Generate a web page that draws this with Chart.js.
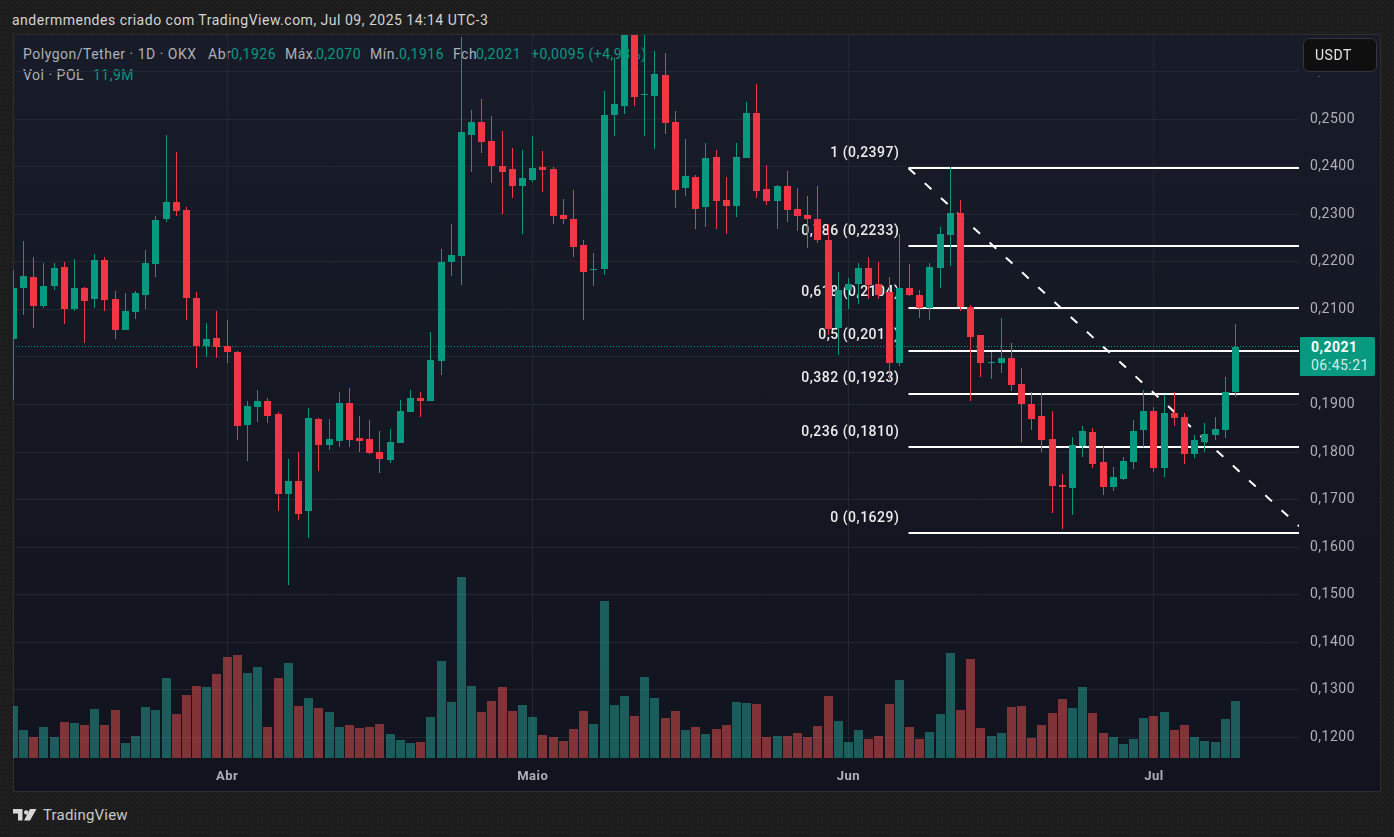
<!DOCTYPE html>
<html lang="pt">
<head>
<meta charset="utf-8">
<title>Polygon/Tether</title>
<script src="https://cdn.jsdelivr.net/npm/chart.js@4/dist/chart.umd.min.js"></script>
<style>
    html, body { margin: 0; padding: 0; }
    body {
        width: 1394px; height: 837px; position: relative; overflow: hidden;
        background-color: #1d1d1d;
        background-image: radial-gradient(rgba(255,255,255,0.05) 0.7px, transparent 0.8px);
        background-size: 5px 5px;
        font-family: Roboto, sans-serif; font-size: 14px; letter-spacing: 0.5px;
    }
    #pane {
        position: absolute; left: 13px; top: 34px; width: 1368px; height: 758px;
        box-sizing: border-box; border: 1px solid #2e2e2e;
        background: linear-gradient(#181c28, #11141e);
    }
    #chart { position: absolute; left: 0; top: 0; z-index: 1; }
    .txt { position: absolute; white-space: nowrap; line-height: 18px; color: #aeb0b8; }
    .up { color: #089981; }
    #usdt {
        position: absolute; z-index: 2; left: 1303px; top: 38px; width: 74px; height: 34px;
        box-sizing: border-box; border: 1px solid #34363c; border-radius: 6px;
        background: #0f0f0f; color: #e4e4e4; line-height: 32px; padding-left: 11px;
        box-shadow: 0 4px 0 0 #181c28;
    }
    #lastPrice {
        position: absolute; z-index: 2; left: 1300px; top: 337px; width: 75px; height: 39px;
        background: #089981; border-radius: 0 2px 2px 0;
    }
</style>
</head>
<body>
<div id="pane"></div>

<div class="txt" style="left:12px;top:11px;color:#d4d4d4">andermmendes criado com TradingView.com, Jul 09, 2025 14:14 UTC-3</div>
<div class="txt" style="left:23px;top:45px">Polygon/Tether · 1D · OKX</div>
<div class="txt" style="left:208px;top:45px">Abr</div>
<div class="txt up" style="left:231px;top:45px">0,1926</div>
<div class="txt" style="left:285px;top:45px">Máx.</div>
<div class="txt up" style="left:316px;top:45px">0,2070</div>
<div class="txt" style="left:370px;top:45px">Mín.</div>
<div class="txt up" style="left:399px;top:45px">0,1916</div>
<div class="txt" style="left:453px;top:45px">Fch</div>
<div class="txt up" style="left:476px;top:45px">0,2021</div>
<div class="txt up" style="left:531px;top:45px">+0,0095 (+4,93%)</div>
<div class="txt" style="left:23px;top:66px">Vol · POL</div>
<div class="txt up" style="left:93px;top:66px">11,9M</div>

<canvas id="chart" width="1394" height="837"></canvas>

<div id="usdt">USDT</div>
<div id="lastPrice">
    <div class="txt" style="left:11px;top:1px;color:#fff;font-weight:700">0,2021</div>
    <div class="txt" style="left:11px;top:19px;color:#d4ece7">06:45:21</div>
</div>

<svg style="position:absolute;left:13px;top:809px" width="24" height="12" viewBox="0 0 24 12">
    <path fill="#d8d8d8" d="M0 0h9.5v11.5H5V4.5H0zM11 3.5a2.2 2.2 0 1 0 0-.1zM17 0h6.5L17 11.5h-6z"/>
</svg>
<div class="txt" style="left:43px;top:806px;font-size:15px;letter-spacing:0.2px;color:#c8c8c8">TradingView</div>

<script>
// Candles from 11 Mar to 9 Jul 2025
const opens = [
    0.2038, 0.2146, 0.2169, 0.2108, 0.2150, 0.2190, 0.2100, 0.2146, 0.2121, 0.2203,
    0.2121, 0.2057, 0.2094, 0.2130, 0.2195, 0.2291, 0.2327, 0.2310, 0.2125, 0.2023,
    0.2040, 0.2023, 0.2011, 0.1857, 0.1895, 0.1908, 0.1881, 0.1712, 0.1738, 0.1675,
    0.1870, 0.1815, 0.1824, 0.1904, 0.1830, 0.1828, 0.1799, 0.1784, 0.1820, 0.1885,
    0.1914, 0.1908, 0.1992, 0.2199, 0.2213, 0.2467, 0.2495, 0.2455, 0.2402, 0.2396,
    0.2360, 0.2373, 0.2400, 0.2396, 0.2299, 0.2291, 0.2236, 0.2184, 0.2186, 0.2510,
    0.2527, 0.2705, 0.2552, 0.2550, 0.2594, 0.2495, 0.2356, 0.2379, 0.2316, 0.2421,
    0.2331, 0.2318, 0.2419, 0.2514, 0.2354, 0.2329, 0.2360, 0.2312, 0.2299, 0.2291,
    0.2247, 0.2061, 0.2140, 0.2154, 0.2188, 0.2154, 0.2136, 0.1988, 0.2146, 0.2131,
    0.2104, 0.2188, 0.2257, 0.2303, 0.2106, 0.2047, 0.1988, 0.1988, 0.1998, 0.1944,
    0.1902, 0.1876, 0.1828, 0.1731, 0.1725, 0.1813, 0.1843, 0.1778, 0.1727, 0.1744,
    0.1780, 0.1847, 0.1887, 0.1767, 0.1883, 0.1874, 0.1795, 0.1822, 0.1836, 0.1847,
    0.1926
];
const highs = [
    0.2184, 0.2245, 0.2211, 0.2197, 0.2197, 0.2199, 0.2207, 0.2148, 0.2217, 0.2211,
    0.2138, 0.2134, 0.2138, 0.2226, 0.2297, 0.2467, 0.2432, 0.2316, 0.2136, 0.2072,
    0.2096, 0.2078, 0.2013, 0.1908, 0.1931, 0.1914, 0.1885, 0.1786, 0.1801, 0.1893,
    0.1872, 0.1870, 0.1927, 0.1935, 0.1876, 0.1868, 0.1845, 0.1849, 0.1910, 0.1931,
    0.1927, 0.2053, 0.2228, 0.2279, 0.2674, 0.2520, 0.2543, 0.2506, 0.2476, 0.2440,
    0.2436, 0.2465, 0.2434, 0.2400, 0.2333, 0.2352, 0.2247, 0.2219, 0.2560, 0.2630,
    0.2740, 0.2760, 0.2700, 0.2644, 0.2640, 0.2518, 0.2459, 0.2383, 0.2451, 0.2436,
    0.2379, 0.2451, 0.2537, 0.2575, 0.2404, 0.2362, 0.2392, 0.2356, 0.2339, 0.2360,
    0.2280, 0.2179, 0.2167, 0.2197, 0.2211, 0.2199, 0.2169, 0.2259, 0.2195, 0.2140,
    0.2197, 0.2274, 0.2400, 0.2331, 0.2110, 0.2047, 0.2011, 0.2083, 0.2030, 0.1977,
    0.1927, 0.1925, 0.1887, 0.1754, 0.1832, 0.1855, 0.1851, 0.1813, 0.1769, 0.1790,
    0.1868, 0.1931, 0.1895, 0.1921, 0.1927, 0.1883, 0.1836, 0.1862, 0.1874, 0.1958,
    0.2070
];
const lows = [
    0.1910, 0.2089, 0.2061, 0.2102, 0.2140, 0.2070, 0.2096, 0.2030, 0.2104, 0.2096,
    0.2038, 0.2057, 0.2080, 0.2100, 0.2169, 0.2285, 0.2297, 0.2078, 0.1977, 0.2000,
    0.1998, 0.1988, 0.1826, 0.1782, 0.1864, 0.1860, 0.1675, 0.1521, 0.1658, 0.1620,
    0.1759, 0.1805, 0.1811, 0.1811, 0.1801, 0.1795, 0.1755, 0.1776, 0.1818, 0.1885,
    0.1874, 0.1908, 0.1963, 0.2171, 0.2152, 0.2390, 0.2430, 0.2367, 0.2301, 0.2335,
    0.2259, 0.2369, 0.2348, 0.2279, 0.2279, 0.2211, 0.2078, 0.2150, 0.2173, 0.2465,
    0.2512, 0.2529, 0.2465, 0.2438, 0.2470, 0.2314, 0.2339, 0.2270, 0.2274, 0.2270,
    0.2259, 0.2295, 0.2419, 0.2335, 0.2320, 0.2270, 0.2283, 0.2264, 0.2230, 0.2240,
    0.2047, 0.2005, 0.2100, 0.2112, 0.2121, 0.2121, 0.1950, 0.1982, 0.2129, 0.2083,
    0.2078, 0.2146, 0.2192, 0.2096, 0.1908, 0.1958, 0.1954, 0.1967, 0.1929, 0.1822,
    0.1847, 0.1799, 0.1672, 0.1639, 0.1668, 0.1790, 0.1767, 0.1710, 0.1717, 0.1742,
    0.1765, 0.1811, 0.1757, 0.1748, 0.1855, 0.1775, 0.1788, 0.1801, 0.1826, 0.1830,
    0.1916
];
const closes = [
    0.2146, 0.2171, 0.2108, 0.2150, 0.2188, 0.2100, 0.2146, 0.2117, 0.2203, 0.2119,
    0.2057, 0.2096, 0.2134, 0.2197, 0.2289, 0.2327, 0.2308, 0.2123, 0.2023, 0.2038,
    0.2021, 0.2011, 0.1855, 0.1897, 0.1908, 0.1876, 0.1712, 0.1738, 0.1670, 0.1872,
    0.1815, 0.1828, 0.1904, 0.1826, 0.1824, 0.1797, 0.1786, 0.1822, 0.1887, 0.1914,
    0.1908, 0.1994, 0.2199, 0.2215, 0.2474, 0.2495, 0.2453, 0.2402, 0.2390, 0.2360,
    0.2377, 0.2398, 0.2394, 0.2297, 0.2291, 0.2232, 0.2179, 0.2186, 0.2510, 0.2533,
    0.2705, 0.2548, 0.2554, 0.2596, 0.2493, 0.2352, 0.2381, 0.2312, 0.2419, 0.2329,
    0.2318, 0.2421, 0.2514, 0.2350, 0.2329, 0.2360, 0.2310, 0.2297, 0.2291, 0.2247,
    0.2059, 0.2140, 0.2154, 0.2188, 0.2152, 0.2131, 0.1988, 0.2146, 0.2131, 0.2102,
    0.2190, 0.2259, 0.2303, 0.2106, 0.2043, 0.1988, 0.1990, 0.1998, 0.1942, 0.1900,
    0.1870, 0.1826, 0.1729, 0.1727, 0.1815, 0.1845, 0.1775, 0.1727, 0.1748, 0.1782,
    0.1845, 0.1887, 0.1767, 0.1883, 0.1872, 0.1795, 0.1826, 0.1838, 0.1849, 0.1927,
    0.2021
];
// Volume in millions
const volumes = [
    10.9, 5.9, 4.4, 6.5, 4.4, 7.5, 7.3, 6.9, 10.2, 6.9,
    10.0, 3.1, 4.6, 10.7, 10.0, 16.7, 9.2, 13.2, 15.1, 14.8,
    17.6, 21.1, 21.5, 17.8, 19.0, 6.5, 16.7, 19.9, 10.9, 12.5,
    10.5, 9.6, 6.5, 6.9, 6.3, 6.5, 7.1, 5.0, 3.8, 3.1,
    3.3, 8.6, 20.3, 11.7, 37.8, 15.1, 9.6, 11.9, 14.8, 9.8,
    11.1, 8.6, 4.8, 4.4, 3.6, 6.1, 9.8, 7.1, 32.8, 11.1,
    13.0, 8.8, 16.9, 12.5, 8.4, 9.8, 5.9, 6.5, 5.0, 6.1,
    6.9, 11.7, 11.5, 11.3, 4.4, 4.6, 4.6, 5.2, 4.4, 6.7,
    13.0, 7.7, 3.3, 5.9, 4.0, 4.6, 11.3, 16.3, 6.5, 4.0,
    5.4, 9.2, 22.0, 10.0, 20.7, 6.3, 4.6, 5.2, 10.7, 10.9,
    4.2, 6.9, 9.4, 12.3, 10.5, 14.8, 9.4, 5.2, 4.4, 2.9,
    4.0, 8.4, 8.8, 9.6, 5.9, 6.9, 4.4, 3.6, 3.3, 8.2,
    11.9
];

const monthTicks = [21, 51, 82, 112];
const monthLabels = ['Abr', 'Maio', 'Jun', 'Jul'];
const priceTicks = [0.12, 0.13, 0.14, 0.15, 0.16, 0.17, 0.18, 0.19, 0.20, 0.21, 0.22, 0.23, 0.24, 0.25, 0.26];

// Fibonacci retracement drawn on the chart
const fibLevels = ['1', '0,786', '0,618', '0,5', '0,382', '0,236', '0'];
const fibPrices = [0.2397, 0.2233, 0.2104, 0.2013, 0.1923, 0.1810, 0.1629];
const fibStart = 87.9;
const lastPrice = 0.2021;
const trendDays = [87.9, 126.24];
const trendPrices = [0.2397, 0.1644];

const GREEN = '#089981';
const RED = '#f23645';
const VOL_GREEN = 'rgba(38,166,154,0.5)';
const VOL_RED = 'rgba(239,83,80,0.5)';
const X_MIN = -0.03;
const X_MAX = 126.24;

const isUp = (i) => closes[i] >= opens[i];
const formatPrice = (v) => v.toFixed(4).replace('.', ',');

// Candles sit on whole pixels in the original, so snap the bars and flat lines
const snapPlugin = {
    id: 'snap',
    afterDatasetsUpdate(chart) {
        chart.data.datasets.forEach((ds, n) => {
            const meta = chart.getDatasetMeta(n);
            if (meta.type === 'bar') {
                meta.data.forEach((el) => {
                    el.x = Math.floor(el.x) + 0.5;
                    el.y = Math.round(el.y);
                    el.base = Math.round(el.base);
                    if (el.y === el.base) el.base = el.y + 1;
                });
            } else if (ds.snapY) {
                meta.data.forEach((el) => {
                    el.y = ds.borderWidth % 2 ? Math.floor(el.y) + 0.5 : Math.round(el.y);
                });
            }
        });
    }
};

// Fib labels go under the candles, like the other drawings
const fibLabelPlugin = {
    id: 'fibLabels',
    beforeDatasetsDraw(chart) {
        const { ctx, scales } = chart;
        ctx.save();
        ctx.font = '500 14px Roboto, sans-serif';
        ctx.fillStyle = '#ececec';
        ctx.textAlign = 'right';
        ctx.textBaseline = 'middle';
        fibLevels.forEach((level, i) => {
            const y = scales.y.getPixelForValue(fibPrices[i]) - 15;
            ctx.fillText(level + ' (' + formatPrice(fibPrices[i]) + ')', scales.x.getPixelForValue(87), y);
        });
        ctx.restore();
    }
};

const fibDatasets = fibPrices.map((price) => ({
    type: 'line',
    data: [{ x: fibStart, y: price }, { x: X_MAX, y: price }],
    yAxisID: 'y',
    borderColor: '#ffffff',
    borderWidth: 2,
    pointRadius: 0,
    snapY: true,
    order: 4
}));

const ctx = document.getElementById('chart').getContext('2d');
ctx.letterSpacing = '0.5px';

new Chart(ctx, {
    type: 'bar',
    data: {
        datasets: [
            {
                data: closes.map((c, i) => ({ x: i, y: [opens[i], c] })),
                yAxisID: 'y',
                backgroundColor: closes.map((c, i) => (isUp(i) ? GREEN : RED)),
                barThickness: 7,
                minBarLength: 1,
                inflateAmount: 0,
                grouped: false,
                order: 1
            },
            {
                data: closes.map((c, i) => ({ x: i, y: [lows[i], highs[i]] })),
                yAxisID: 'y',
                backgroundColor: closes.map((c, i) => (isUp(i) ? GREEN : RED)),
                barThickness: 1,
                inflateAmount: 0,
                grouped: false,
                order: 2
            },
            {
                type: 'line',
                data: trendDays.map((d, i) => ({ x: d, y: trendPrices[i] })),
                yAxisID: 'y',
                borderColor: '#ffffff',
                borderWidth: 2,
                borderDash: [9, 13],
                pointRadius: 0,
                order: 3
            },
            ...fibDatasets,
            {
                type: 'line',
                data: [{ x: X_MIN, y: lastPrice }, { x: X_MAX, y: lastPrice }],
                yAxisID: 'y',
                borderColor: GREEN,
                borderWidth: 1,
                borderDash: [1, 2],
                pointRadius: 0,
                snapY: true,
                order: 5
            },
            {
                data: volumes.map((v, i) => ({ x: i, y: v })),
                yAxisID: 'vol',
                backgroundColor: volumes.map((v, i) => (isUp(i) ? VOL_GREEN : VOL_RED)),
                barThickness: 9,
                inflateAmount: 0,
                grouped: false,
                order: 6
            }
        ]
    },
    options: {
        responsive: false,
        animation: false,
        events: [],
        layout: { padding: { left: 13, top: 35, right: 14, bottom: 44 } },
        plugins: { legend: { display: false }, tooltip: { enabled: false } },
        scales: {
            x: {
                type: 'linear',
                min: X_MIN,
                max: X_MAX,
                offset: false,
                afterBuildTicks: (axis) => { axis.ticks = monthTicks.map((v) => ({ value: v })); },
                afterFit: (axis) => { axis.height = 35; },
                border: { display: false },
                grid: { color: '#232732', drawTicks: false, offset: false },
                ticks: {
                    color: '#aeb0b8',
                    font: { family: 'Roboto, sans-serif', size: 13, weight: '700' },
                    padding: 11,
                    maxRotation: 0,
                    autoSkip: false,
                    callback: (v) => monthLabels[monthTicks.indexOf(v)]
                }
            },
            y: {
                type: 'linear',
                position: 'right',
                min: 0.11562,
                max: 0.26774,
                afterBuildTicks: (axis) => { axis.ticks = priceTicks.map((v) => ({ value: v })); },
                afterFit: (axis) => { axis.width = 81; },
                border: { display: false },
                grid: { color: '#232732', drawTicks: false },
                ticks: {
                    color: '#aeb0b8',
                    font: { family: 'Roboto, sans-serif', size: 14 },
                    padding: 11,
                    autoSkip: false,
                    callback: (v) => formatPrice(v)
                }
            },
            vol: { type: 'linear', display: false, min: 0, max: 151.1 }
        }
    },
    plugins: [snapPlugin, fibLabelPlugin]
});
</script>
</body>
</html>
